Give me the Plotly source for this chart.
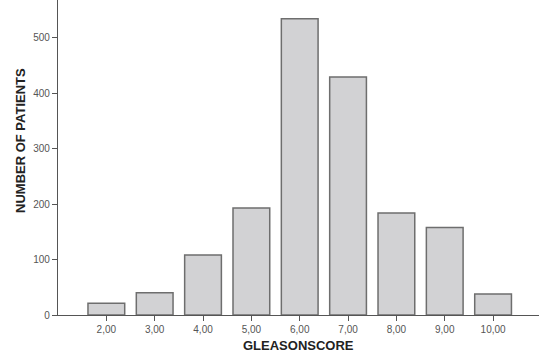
import plotly.graph_objects as go

scores = [2, 3, 4, 5, 6, 7, 8, 9, 10]
tick_labels = ["2,00", "3,00", "4,00", "5,00", "6,00", "7,00", "8,00", "9,00", "10,00"]
patients = [21, 40, 108, 193, 534, 429, 184, 158, 38]
y_ticks = [0, 100, 200, 300, 400, 500]

fig = go.Figure()
fig.add_trace(go.Bar(
    x=scores, y=patients, width=0.76,
    marker=dict(color="#d2d2d4", line=dict(color="#6e6e6e", width=1.5)),
))

fig.update_layout(
    width=539, height=353,
    margin=dict(l=58, r=0, t=0, b=38, autoexpand=False),
    plot_bgcolor="white", paper_bgcolor="white",
    showlegend=False,
    font=dict(family="Liberation Sans, Arial, sans-serif", color="#444444", size=10),
    xaxis=dict(
        range=[1, 10.95], tickmode="array", tickvals=scores, ticktext=tick_labels,
        showline=True, linecolor="#555555", linewidth=1.2, automargin=False,
        ticks="outside", ticklen=5, tickcolor="#555555", showgrid=False, zeroline=False,
        tickfont=dict(size=10, color="#555555"),
    ),
    yaxis=dict(
        range=[0, 568], tickmode="array", tickvals=y_ticks,
        showline=True, linecolor="#555555", linewidth=1.2, automargin=False,
        ticks="outside", ticklen=5, tickcolor="#555555", showgrid=False, zeroline=False,
        tickfont=dict(size=10, color="#555555"),
    ),
    annotations=[
        dict(text="<b>GLEASONSCORE</b>", xref="paper", yref="paper", x=0.5, y=-0.097,
             xanchor="center", yanchor="middle", showarrow=False,
             font=dict(size=13, color="#222222")),
        dict(text="<b>NUMBER OF PATIENTS</b>", xref="paper", yref="paper", x=-0.078, y=0.554,
             xanchor="center", yanchor="middle", textangle=-90, showarrow=False,
             font=dict(size=13, color="#222222")),
    ],
)

fig.write_html("out.html", config={"displayModeBar": False},
               post_script="document.body.style.margin='0';document.body.style.overflow='hidden';")
